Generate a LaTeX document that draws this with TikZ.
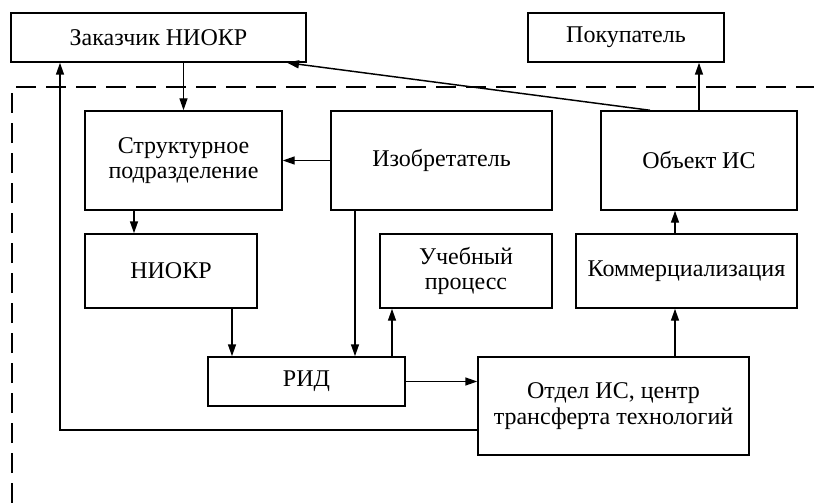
\documentclass[tikz,border=0pt]{standalone}
\usepackage{fontspec}
\setmainfont{Liberation Serif}
\usetikzlibrary{arrows.meta}
\begin{document}
\begin{tikzpicture}[x=0.75pt,y=-0.75pt,
  bx/.style 2 args={draw, line width=1.1pt, minimum width=#1*0.75pt, minimum height=#2*0.75pt, inner sep=0pt, align=center, font=\fontsize{18}{19}\selectfont},
  arr/.style={line width=1.1pt, -{Triangle[length=9pt,width=6pt]}},
  ln/.style={line width=1.1pt}]
\useasboundingbox (0,0) rectangle (814,503);
\node[bx={295}{49}] (zak) at (158.5,37.5) {Заказчик НИОКР};
\node[bx={196}{49}] (pok) at (626,37.5) {Покупатель};
\node[bx={197}{99}] (str) at (183.5,160.5) {Структурное\\подразделение};
\node[bx={221}{99}] (izo) at (441.5,160.5) {Изобретатель};
\node[bx={196}{99}] (obj) at (699,160.5) {Объект ИС};
\node[bx={172}{74}] (nio) at (171,271) {НИОКР};
\node[bx={172}{74}] (uch) at (466,271) {Учебный\\процесс};
\node[bx={221}{74}] (kom) at (686.5,271) {Коммерциализация};
\node[bx={197}{49}] (rid) at (306.5,381.5) {РИД};
\node[bx={271}{98}] (otd) at (613.5,406) {Отдел ИС, центр\\трансферта технологий};
\coordinate (c1) at (60,430);
\draw[line width=1.7pt, dash pattern=on 15pt off 7.5pt] (12,503) -- (12,87) -- (814,87);
\draw[arr] (zak.south -| str.north) -- (str.north);
\draw[arr] (izo.west) -- (str.east);
\draw[arr] (str.south -| 134,0) -- (nio.north -| 134,0);
\draw[arr] (nio.south -| 232,0) -- (rid.north -| 232,0);
\draw[arr] (izo.south -| 355,0) -- (rid.north -| 355,0);
\draw[arr] (rid.north -| 392,0) -- (uch.south -| 392,0);
\draw[arr] (rid.east) -- (otd.west |- rid.east);
\draw[arr] (otd.north -| 675,0) -- (kom.south -| 675,0);
\draw[arr] (kom.north -| 675,0) -- (obj.south -| 675,0);
\draw[arr] (obj.north) -- (pok.south -| obj.north);
\draw[arr] (obj.north -| 650,0) -- (zak.south -| 287,0);
\draw[arr] (otd.west |- c1) -- (c1) -- (zak.south -| c1);
\end{tikzpicture}
\end{document}
